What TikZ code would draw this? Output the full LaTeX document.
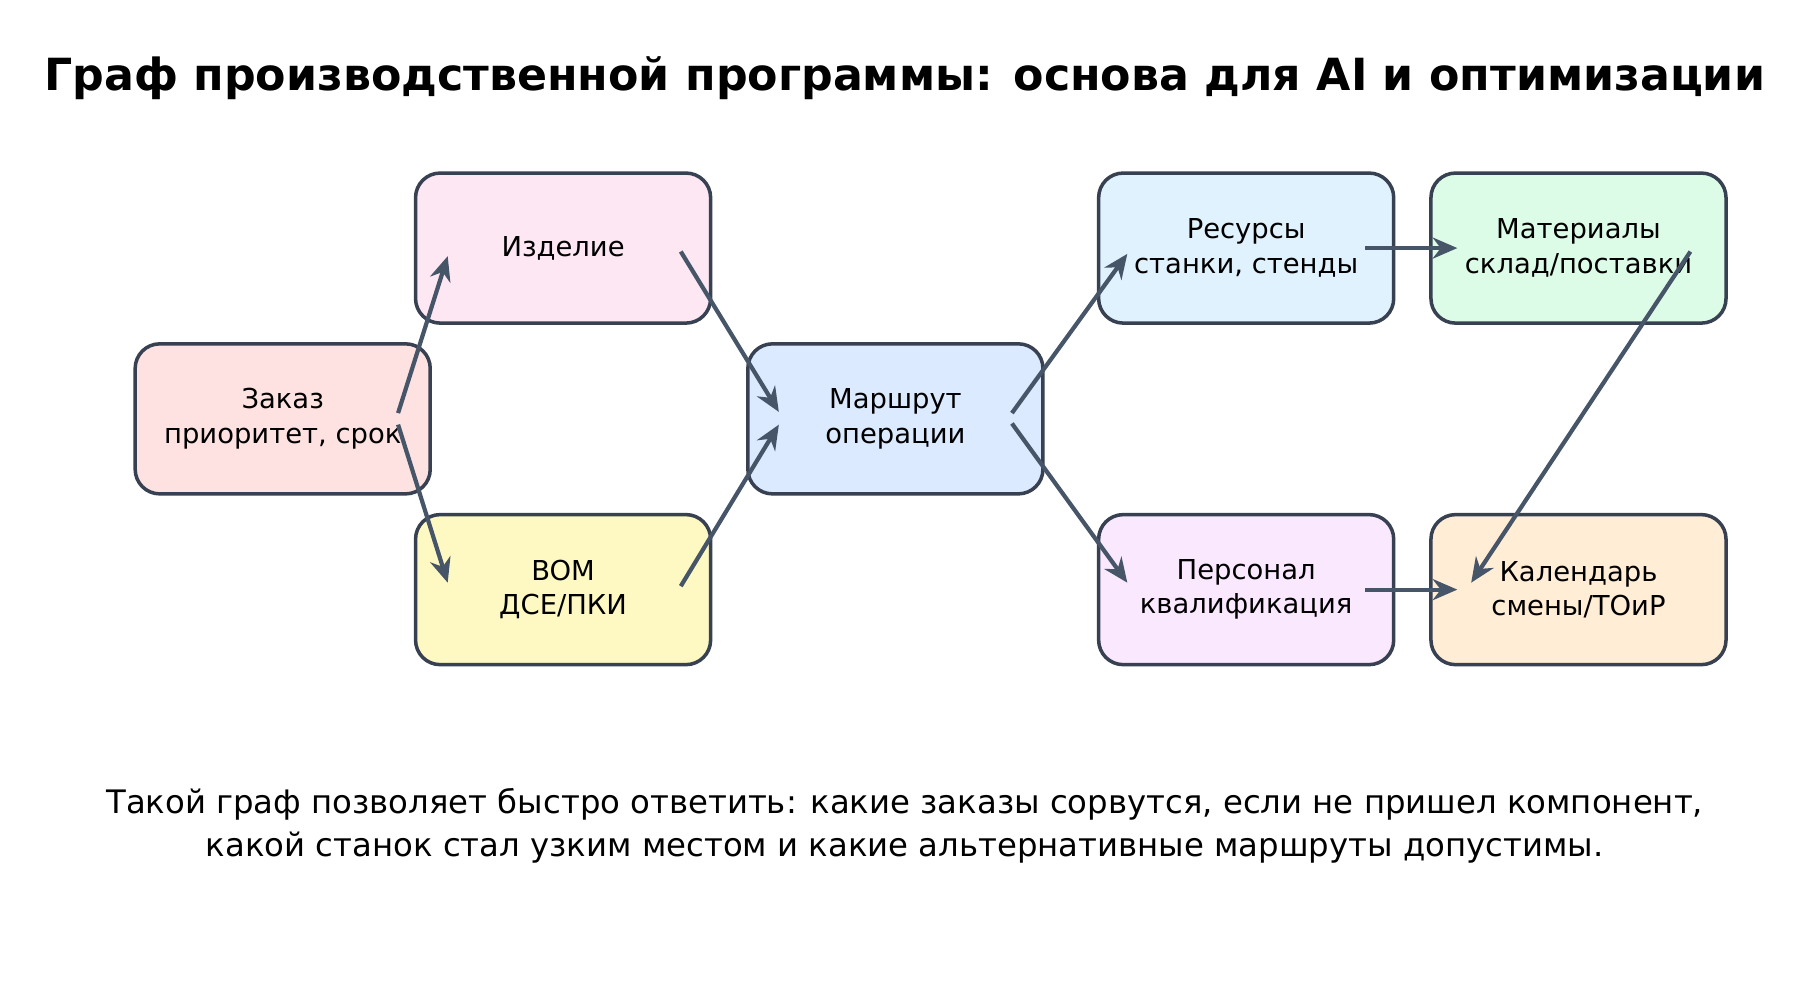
\documentclass[tikz,border=0pt]{standalone}
\usepackage{fontspec}
\setmainfont{DejaVu Sans}
\usetikzlibrary{arrows.meta,positioning}
\definecolor{edgec}{HTML}{374151}
\definecolor{arrc}{HTML}{475569}
\begin{document}
\begin{tikzpicture}[x=0.011538cm,y=-0.011538cm]
\tikzset{box/.style={draw=edgec, line width=1pt, rounded corners=7pt, minimum width=2.95cm, minimum height=1.5cm, align=center, font=\fontsize{7.8}{9.8}\selectfont},
 link/.style={draw=arrc, line width=1.2pt, -{Stealth[length=7pt,width=6pt]}}}
\useasboundingbox (0,0) rectangle (1560,854);
\node (title) at (784,68) {\fontsize{12.6}{15}\selectfont\bfseries Граф производственной программы: основа для AI и оптимизации};
\node[box, fill={rgb,255:red,254;green,226;blue,226}] (zakaz) at (245,363) {Заказ\\приоритет, срок};
\node[box, fill={rgb,255:red,252;green,231;blue,243}] (izd) at (488,215) {Изделие};
\node[box, fill={rgb,255:red,254;green,249;blue,195}] (bom) at (488,511) {BOM\\ДСЕ/ПКИ};
\node[box, fill={rgb,255:red,219;green,234;blue,254}] (marsh) at (776,363) {Маршрут\\операции};
\node[box, fill={rgb,255:red,224;green,242;blue,254}] (res) at (1080,215) {Ресурсы\\станки, стенды};
\node[box, fill={rgb,255:red,220;green,252;blue,231}] (mat) at (1368,215) {Материалы\\склад/поставки};
\node[box, fill={rgb,255:red,250;green,232;blue,255}] (pers) at (1080,511) {Персонал\\квалификация};
\node[box, fill={rgb,255:red,255;green,237;blue,213}] (kal) at (1368,511) {Календарь\\смены/ТОиР};
\node[align=center, font=\fontsize{9.2}{12.2}\selectfont] (note) at (784,716) {Такой граф позволяет быстро ответить: какие заказы сорвутся, если не пришел компонент,\\какой станок стал узким местом и какие альтернативные маршруты допустимы.};
% arrow ends inside boxes
\coordinate (zakaz-a) at ([shift={(100,-5)}]zakaz.center);
\coordinate (zakaz-b) at ([shift={(100,5)}]zakaz.center);
\coordinate (izd-in) at ([shift={(-100,7)}]izd.center);
\coordinate (izd-out) at ([shift={(102,3)}]izd.center);
\coordinate (bom-in) at ([shift={(-100,-6)}]bom.center);
\coordinate (bom-out) at ([shift={(102,-3)}]bom.center);
\coordinate (marsh-a) at ([shift={(-101,-6)}]marsh.center);
\coordinate (marsh-b) at ([shift={(-101,5)}]marsh.center);
\coordinate (marsh-c) at ([shift={(101,-5)}]marsh.center);
\coordinate (marsh-d) at ([shift={(101,4)}]marsh.center);
\coordinate (res-in) at ([shift={(-103,5)}]res.center);
\coordinate (res-out) at ([shift={(103,0)}]res.center);
\coordinate (pers-in) at ([shift={(-103,-6)}]pers.center);
\coordinate (pers-out) at ([shift={(103,0)}]pers.center);
\coordinate (mat-in) at ([shift={(-105,0)}]mat.center);
\coordinate (mat-out) at ([shift={(97,3)}]mat.center);
\coordinate (kal-a) at ([shift={(-105,0)}]kal.center);
\coordinate (kal-b) at ([shift={(-93,-6)}]kal.center);
\draw[link] (zakaz-a) -- (izd-in);
\draw[link] (zakaz-b) -- (bom-in);
\draw[link] (izd-out) -- (marsh-a);
\draw[link] (bom-out) -- (marsh-b);
\draw[link] (marsh-c) -- (res-in);
\draw[link] (marsh-d) -- (pers-in);
\draw[link] (res-out) -- (mat-in);
\draw[link] (pers-out) -- (kal-a);
\draw[link] (mat-out) -- (kal-b);
\end{tikzpicture}
\end{document}
